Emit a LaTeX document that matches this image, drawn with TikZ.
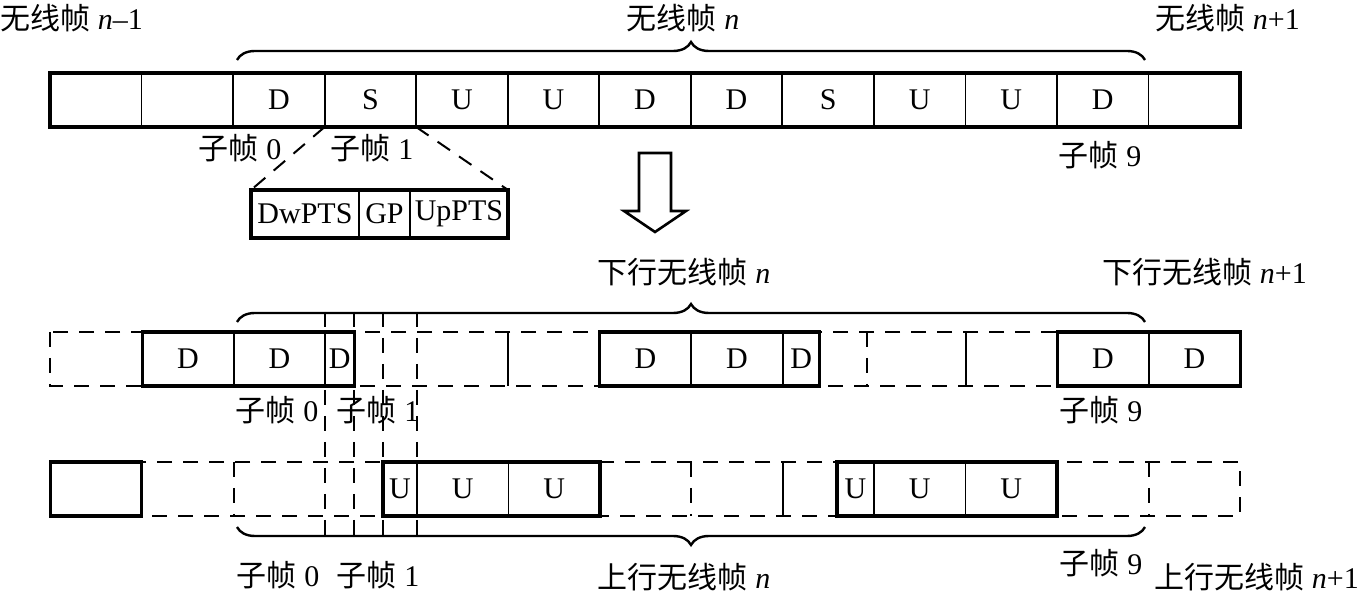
\documentclass[tikz,border=0pt]{standalone}
\usepackage{fontspec}
\setmainfont{Liberation Serif}
\newfontfamily\cjk{Noto Sans CJK SC}
\newcommand\zh[1]{{\cjk #1}}
\usetikzlibrary{positioning,decorations.pathreplacing}

\tikzset{
  cell/.style={draw, line width=0.9pt, minimum width=45.77pt, minimum height=27pt,
    inner sep=0pt, outer sep=0pt},
  rowframe/.style={line width=1.6pt},
  dashln/.style={line width=1pt, dash pattern=on 7.5pt off 5.5pt},
  sepln/.style={line width=1pt},
  curly/.style={decorate, decoration={brace, amplitude=9pt}, line width=1.2pt},
  lbl/.style={inner sep=0pt}
}

\begin{document}
\begin{tikzpicture}[x=0.5pt, y=-0.5pt, font=\fontsize{15}{18}\selectfont]
            \useasboundingbox (0,0) rectangle (1359,592);

            % radio frame n
            \foreach \t [count=\i from 0] in {{},{},D,S,U,U,D,D,S,U,U,D,{}}
              \node[cell] (a\i) at ({95.77+91.54*\i},100) {\t};
            \draw[rowframe] (a0.north west) rectangle (a12.south east);

            \node[lbl, anchor=west] (fprev) at (0,18) {\zh{无线帧} \textit{n}–1};
            \node[lbl] (fcur) at (683,18) {\zh{无线帧} \textit{n}};
            \node[lbl, anchor=west] (fnext) at (1155,18) {\zh{无线帧} \textit{n}+1};
            \draw[curly] (237,60) -- (1145,60);

            \node[lbl] (sf0) at (240,148) {\zh{子帧} 0};
            \node[lbl] (sf1) at (372,148) {\zh{子帧} 1};
            \node[lbl] (sf9) at (1100,155) {\zh{子帧} 9};

            % special subframe
            \node[cell, minimum width=54pt, minimum height=24pt] (dw) at (305,214) {DwPTS};
            \node[cell, minimum width=25.5pt, minimum height=24pt, right=0pt of dw] (gp) {GP};
            \node[cell, minimum width=49pt, minimum height=24pt, right=0pt of gp] (up) {UpPTS};
            \draw[rowframe] (dw.north west) rectangle (up.south east);
            \draw[dashln] (a3.south west) -- (dw.north west);
            \draw[dashln] (a3.south east) -- (up.north east);

            \draw[line width=1.3pt] (639,153) -- (671,153) -- (671,211) -- (686,211)
              -- (655,232) -- (624,211) -- (639,211) -- cycle;

            % downlink
            \node[lbl] (dlcur) at (684,272) {\zh{下行无线帧} \textit{n}};
            \node[lbl, anchor=west] (dlnext) at (1102,272) {\zh{下行无线帧} \textit{n}+1};
            \draw[curly] (237,322) -- (1145,322);

            \draw[dashln] (50,332) rectangle (1240,386);
            \draw[dashln] (867,332) -- (867,386);
            \draw[sepln] (508,332) -- (508,386);
            \draw[sepln] (966,332) -- (966,386);

            % uplink
            \draw[dashln] (50,462) rectangle (1240,516);
            \draw[dashln] (234,462) -- (234,516);
            \draw[dashln] (691,462) -- (691,516);
            \draw[dashln] (1149,462) -- (1149,516);
            \draw[sepln] (783,462) -- (783,516);

            \node[cell] (d1) at (188,359) {D};
            \node[cell, right=0pt of d1] (d2) {D};
            \node[cell, minimum width=14.5pt, right=0pt of d2] (d3) {D};
            \node[cell] (d7) at (645.5,359) {D};
            \node[cell, right=0pt of d7] (d8) {D};
            \node[cell, minimum width=18.5pt, right=0pt of d8] (d9) {D};
            \node[cell] (d11) at (1103,359) {D};
            \node[cell, right=0pt of d11] (d12) {D};

            \node[cell] (u0) at (96,489) {};
            \node[cell, minimum width=17pt] (u3) at (400,489) {U};
            \node[cell, right=0pt of u3] (u4) {U};
            \node[cell, right=0pt of u4] (u5) {U};
            \node[cell, minimum width=18.5pt] (u8) at (855.5,489) {U};
            \node[cell, right=0pt of u8] (u9) {U};
            \node[cell, right=0pt of u9] (u10) {U};

            % subframe 0 / 1 borders
            \draw[dashln] (d3.west |- 0,312) -- (d3.west |- 0,537);
            \draw[dashln] (d3.east |- 0,312) -- (d3.east |- 0,537);
            \draw[dashln] (u3.west |- 0,312) -- (u3.west |- 0,537);
            \draw[dashln] (u3.east |- 0,312) -- (u3.east |- 0,537);

            \draw[rowframe] (d1.north west) rectangle (d3.south east);
            \draw[rowframe] (d7.north west) rectangle (d9.south east);
            \draw[rowframe] (d11.north west) rectangle (d12.south east);
            \draw[rowframe] (u0.north west) rectangle (u0.south east);
            \draw[rowframe] (u3.north west) rectangle (u5.south east);
            \draw[rowframe] (u8.north west) rectangle (u10.south east);

            \node[lbl] (sf0d) at (277,410) {\zh{子帧} 0};
            \node[lbl] (sf1d) at (378,410) {\zh{子帧} 1};
            \node[lbl] (sf9d) at (1101,410) {\zh{子帧} 9};

            \draw[curly] (1145,527) -- (237,527);
            \node[lbl] (sf0u) at (278,575) {\zh{子帧} 0};
            \node[lbl] (sf1u) at (378,575) {\zh{子帧} 1};
            \node[lbl] (ulcur) at (684,577) {\zh{上行无线帧} \textit{n}};
            \node[lbl] (sf9u) at (1101,563) {\zh{子帧} 9};
            \node[lbl, anchor=west] (ulnext) at (1154,577) {\zh{上行无线帧} \textit{n}+1};
        \end{tikzpicture}
\end{document}
